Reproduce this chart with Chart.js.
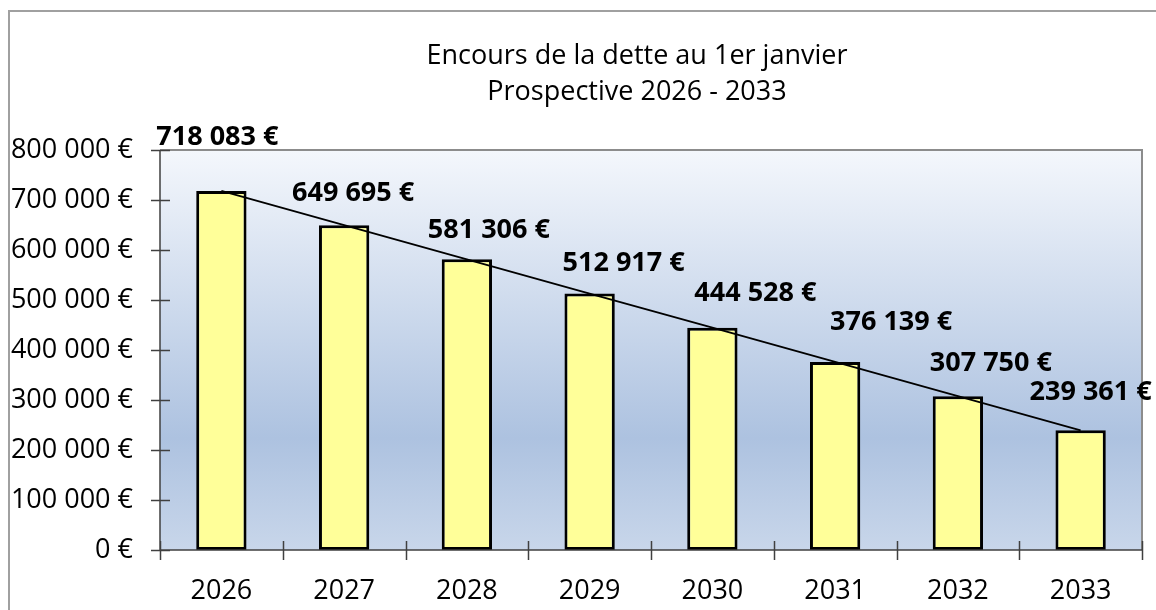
<!DOCTYPE html>
<html>
<head>
<meta charset="utf-8">
<script src="https://cdn.jsdelivr.net/npm/chart.js@4/dist/chart.umd.min.js"></script>
<style>
  html, body { margin: 0; padding: 0; background: #fff; }
  #wrap { width: 1156px; height: 610px; }
</style>
</head>
<body>
<div id="wrap"><canvas id="detteChart" width="1156" height="610"></canvas></div>
<script>
// Data
const years = ['2026', '2027', '2028', '2029', '2030', '2031', '2032', '2033'];
const encours = [718083, 649695, 581306, 512917, 444528, 376139, 307750, 239361];
const yTicks = [0, 100000, 200000, 300000, 400000, 500000, 600000, 700000, 800000];
const titleLines = ['Encours de la dette au 1er janvier', 'Prospective 2026 - 2033'];

// Label placement (pixels, relative to top centre of each bar)
const labelDx = [-4, 9, 22, 34, 43, 56, 33, 10];
const labelDy = [-54, -32, -29, -30, -34, -40, -33, -38];

const FONT = "'Open Sans', 'Noto Sans', sans-serif";

function euro(v) {
    return Math.round(v).toString().replace(/\B(?=(\d{3})+(?!\d))/g, ' ') + ' €';
}

// Background, borders, title
const framePlugin = {
    id: 'frame',
    beforeDraw(chart) {
        const ctx = chart.ctx;
        const a = chart.chartArea;
        ctx.save();
        ctx.fillStyle = '#fff';
        ctx.fillRect(0, 0, chart.width, chart.height);

        // outer border
        ctx.strokeStyle = '#a0a0a0';
        ctx.lineWidth = 2;
        ctx.beginPath();
        ctx.moveTo(9, chart.height);
        ctx.lineTo(9, 11);
        ctx.lineTo(chart.width, 11);
        ctx.stroke();

        // plot area gradient
        const g = ctx.createLinearGradient(0, a.top, 0, a.bottom);
        g.addColorStop(0, '#f4f7fc');
        g.addColorStop(0.72, '#adc2e0');
        g.addColorStop(1, '#c8d6ea');
        ctx.fillStyle = g;
        ctx.fillRect(a.left, a.top, a.right - a.left, a.bottom - a.top);

        // top / right border
        ctx.strokeStyle = '#8c8c8c';
        ctx.lineWidth = 2;
        ctx.beginPath();
        ctx.moveTo(a.left, a.top);
        ctx.lineTo(a.right, a.top);
        ctx.lineTo(a.right, a.bottom);
        ctx.stroke();

        // title
        ctx.fillStyle = '#000';
        ctx.font = '27px ' + FONT;
        ctx.textAlign = 'center';
        ctx.textBaseline = 'middle';
        ctx.fillText(titleLines[0], 637, 56);
        ctx.fillText(titleLines[1], 637, 92);
        ctx.restore();
    },
    afterDatasetsDraw(chart) {
        const ctx = chart.ctx;
        const a = chart.chartArea;
        const xs = chart.scales.x;
        const ys = chart.scales.y;
        ctx.save();
        ctx.strokeStyle = '#404040';
        ctx.lineWidth = 1.5;
        ctx.beginPath();
        // axes
        ctx.moveTo(a.left, a.top);
        ctx.lineTo(a.left, a.bottom);
        ctx.lineTo(a.right, a.bottom);
        // y tick marks
        yTicks.forEach(v => {
            const y = Math.round(ys.getPixelForValue(v)) + 0.5;
            ctx.moveTo(a.left - 9, y);
            ctx.lineTo(a.left + 10, y);
        });
        // x tick marks between categories
        for (let i = 0; i <= years.length; i++) {
            const x = Math.round(xs.getPixelForValue(i - 0.5)) + 0.5;
            ctx.moveTo(x, a.bottom - 9);
            ctx.lineTo(x, a.bottom + 10);
        }
        ctx.stroke();

        // value labels
        const bars = chart.getDatasetMeta(1).data;
        ctx.fillStyle = '#000';
        ctx.font = 'bold 27px ' + FONT;
        ctx.textAlign = 'center';
        ctx.textBaseline = 'middle';
        bars.forEach((bar, i) => {
            ctx.fillText(euro(encours[i]), bar.x + labelDx[i], bar.y + labelDy[i]);
        });
        ctx.restore();
    }
};

const ctx = document.getElementById('detteChart').getContext('2d');
const detteChart = new Chart(ctx, {
    data: {
        labels: years,
        datasets: [{
            type: 'line',
            data: encours,
            borderColor: '#000',
            borderWidth: 1.8,
            pointRadius: 0,
            tension: 0,
            order: 0
        }, {
            type: 'bar',
            data: encours,
            backgroundColor: '#ffff99',
            borderColor: '#000',
            borderWidth: 3,
            borderSkipped: false,
            barPercentage: 0.41,
            categoryPercentage: 1,
            order: 1
        }]
    },
    options: {
        responsive: false,
        animation: false,
        layout: { padding: { top: 150, right: 14, left: 0, bottom: 0 } },
        plugins: {
            legend: { display: false },
            tooltip: { enabled: false },
            title: { display: false }
        },
        scales: {
            x: {
                grid: { display: false, drawTicks: false },
                border: { display: false },
                ticks: { color: '#000', font: { family: FONT, size: 27 }, padding: 25, maxRotation: 0 },
                afterFit(scale) { scale.height = 60; }
            },
            y: {
                min: 0,
                max: 800000,
                grid: { display: false, drawTicks: false },
                border: { display: false },
                afterBuildTicks(scale) { scale.ticks = yTicks.map(v => ({ value: v })); },
                ticks: {
                    color: '#000',
                    font: { family: FONT, size: 27 },
                    padding: 27,
                    callback: v => euro(v)
                },
                afterFit(scale) { scale.width = 160; }
            }
        }
    },
    plugins: [framePlugin]
});
</script>
</body>
</html>
